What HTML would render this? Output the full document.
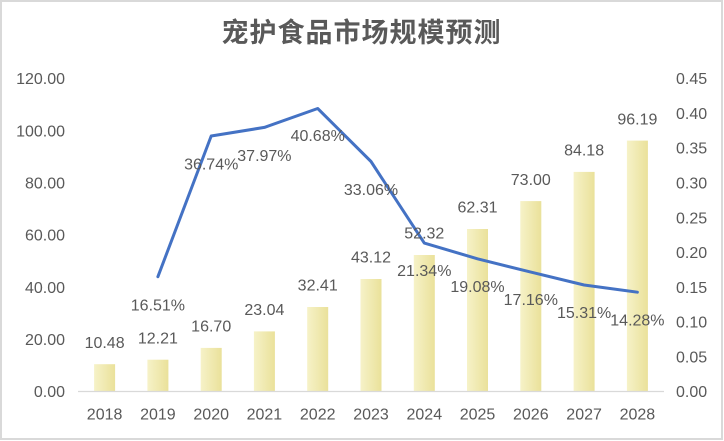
<!DOCTYPE html>
<html>
<head>
<meta charset="utf-8">
<style>
html,body{margin:0;padding:0;background:#fff;}
#wrap{position:relative;width:724px;height:441px;overflow:hidden;background:#fff;}
svg{display:block;}
text{font-family:"Liberation Sans","Noto Sans CJK SC",sans-serif;fill:#595959;font-size:16px;}
</style>
</head>
<body>
<div id="wrap">
<svg width="724" height="441" viewBox="0 0 724 441" xmlns="http://www.w3.org/2000/svg">
<defs>
<linearGradient id="bg" x1="0" y1="0" x2="1" y2="0">
<stop offset="0" stop-color="#f6f2c8"/>
<stop offset="1" stop-color="#eae19a"/>
</linearGradient>
</defs>
<rect x="1" y="1" width="721" height="438" fill="#fff" stroke="#d9d9d9" stroke-width="2"/>
<text x="361.5" y="42" text-anchor="middle" style="font-family:'Liberation Sans','Noto Sans CJK SC',sans-serif;font-size:27px;font-weight:bold;letter-spacing:1px;fill:#595959">宠护食品市场规模预测</text>

<!-- left axis labels -->
<g text-anchor="end">
<text x="65" y="397.2">0.00</text>
<text x="65" y="345.0">20.00</text>
<text x="65" y="292.8">40.00</text>
<text x="65" y="240.7">60.00</text>
<text x="65" y="188.5">80.00</text>
<text x="65" y="136.3">100.00</text>
<text x="65" y="84.2">120.00</text>
</g>
<!-- right axis labels -->
<g text-anchor="start">
<text x="676" y="397.2">0.00</text>
<text x="676" y="362.4">0.05</text>
<text x="676" y="327.6">0.10</text>
<text x="676" y="292.8">0.15</text>
<text x="676" y="258.1">0.20</text>
<text x="676" y="223.3">0.25</text>
<text x="676" y="188.5">0.30</text>
<text x="676" y="153.7">0.35</text>
<text x="676" y="118.9">0.40</text>
<text x="676" y="84.2">0.45</text>
</g>

<!-- bars -->
<g fill="url(#bg)">
<rect x="94.1" y="364.2" width="21" height="27.3"/>
<rect x="147.4" y="359.7" width="21" height="31.8"/>
<rect x="200.7" y="347.9" width="21" height="43.6"/>
<rect x="253.9" y="331.4" width="21" height="60.1"/>
<rect x="307.2" y="307.0" width="21" height="84.5"/>
<rect x="360.5" y="279.0" width="21" height="112.5"/>
<rect x="413.8" y="255.0" width="21" height="136.5"/>
<rect x="467.0" y="229.0" width="21" height="162.5"/>
<rect x="520.3" y="201.1" width="21" height="190.4"/>
<rect x="573.6" y="171.9" width="21" height="219.6"/>
<rect x="626.9" y="140.6" width="21" height="250.9"/>
</g>

<!-- axis line -->
<line x1="78" y1="391.5" x2="664" y2="391.5" stroke="#d9d9d9" stroke-width="1.2"/>

<!-- x labels -->
<g text-anchor="middle">
<text x="104.6" y="419.7">2018</text>
<text x="157.9" y="419.7">2019</text>
<text x="211.2" y="419.7">2020</text>
<text x="264.4" y="419.7">2021</text>
<text x="317.7" y="419.7">2022</text>
<text x="371.0" y="419.7">2023</text>
<text x="424.3" y="419.7">2024</text>
<text x="477.5" y="419.7">2025</text>
<text x="530.8" y="419.7">2026</text>
<text x="584.1" y="419.7">2027</text>
<text x="637.4" y="419.7">2028</text>
</g>

<!-- line -->
<polyline fill="none" stroke="#4472c4" stroke-width="3" stroke-linejoin="round" stroke-linecap="round"
points="157.9,276.7 211.2,136.0 264.4,127.4 317.7,108.5 371.0,161.5 424.3,243.1 477.5,258.8 530.8,272.1 584.1,285.0 637.4,292.2"/>

<!-- bar labels -->
<g text-anchor="middle">
<text x="104.6" y="347.9">10.48</text>
<text x="157.9" y="343.4">12.21</text>
<text x="211.2" y="331.6">16.70</text>
<text x="264.4" y="315.1">23.04</text>
<text x="317.7" y="290.7">32.41</text>
<text x="371.0" y="262.7">43.12</text>
<text x="424.3" y="238.7">52.32</text>
<text x="477.5" y="212.7">62.31</text>
<text x="530.8" y="184.8">73.00</text>
<text x="584.1" y="155.6">84.18</text>
<text x="637.4" y="124.3">96.19</text>
</g>

<!-- line labels -->
<g text-anchor="middle">
<text x="157.9" y="310.4">16.51%</text>
<text x="211.2" y="169.4">36.74%</text>
<text x="264.4" y="160.8">37.97%</text>
<text x="317.7" y="141.2">40.68%</text>
<text x="371.0" y="194.8">33.06%</text>
<text x="424.3" y="276.0">21.34%</text>
<text x="477.5" y="292.0">19.08%</text>
<text x="530.8" y="305.2">17.16%</text>
<text x="584.1" y="318.2">15.31%</text>
<text x="637.4" y="325.4">14.28%</text>
</g>
</svg>
</div>
</body>
</html>
